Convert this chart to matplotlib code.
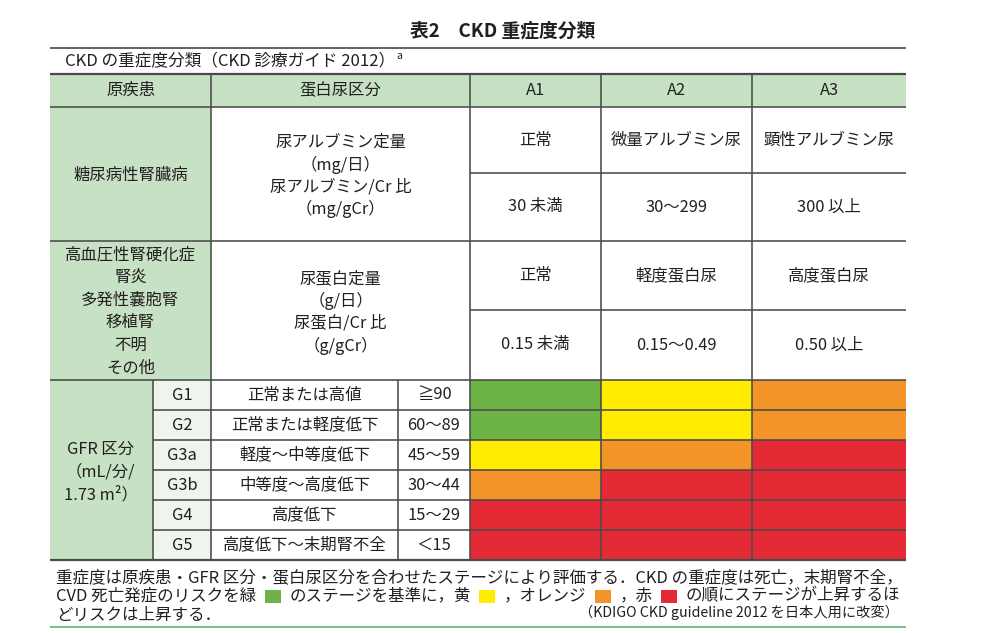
import matplotlib
matplotlib.use("Agg")
import matplotlib.pyplot as plt
from matplotlib.patches import Rectangle

plt.rcParams['font.family'] = ['Noto Sans CJK JP', 'DejaVu Sans']

# ---------------- data ----------------
title = "表2　CKD 重症度分類"
subtitle = "CKD の重症度分類（CKD 診療ガイド 2012）"
header_labels = ["原疾患", "蛋白尿区分", "A1", "A2", "A3"]
diseases = [["糖尿病性腎臓病"],
            ["高血圧性腎硬化症", "腎炎", "多発性嚢胞腎", "移植腎", "不明", "その他"]]
protein_measures = [["尿アルブミン定量", "（mg/日）", "尿アルブミン/Cr 比", "（mg/gCr）"],
                    ["尿蛋白定量", "（g/日）", "尿蛋白/Cr 比", "（g/gCr）"]]
albumin_labels = ["正常", "微量アルブミン尿", "顕性アルブミン尿"]
albumin_ranges = ["30 未満", "30〜299", "300 以上"]
protein_labels = ["正常", "軽度蛋白尿", "高度蛋白尿"]
protein_ranges = ["0.15 未満", "0.15〜0.49", "0.50 以上"]
gfr_label = ["GFR 区分", "（mL/分/", "1.73 m²）"]
g_stages = ["G1", "G2", "G3a", "G3b", "G4", "G5"]
g_descriptions = ["正常または高値", "正常または軽度低下", "軽度〜中等度低下",
                  "中等度〜高度低下", "高度低下", "高度低下〜末期腎不全"]
g_ranges = ["≧90", "60〜89", "45〜59", "30〜44", "15〜29", "＜15"]
# risk level per (G stage, A category): 0 green, 1 yellow, 2 orange, 3 red
risk_levels = [[0, 1, 2],
               [0, 1, 2],
               [1, 2, 3],
               [2, 3, 3],
               [3, 3, 3],
               [3, 3, 3]]
risk_colors = ["#6db345", "#ffec00", "#f29427", "#e42a34"]
footnote_1 = "重症度は原疾患・GFR 区分・蛋白尿区分を合わせたステージにより評価する．CKD の重症度は死亡，末期腎不全，"
footnote_2 = ["CVD 死亡発症のリスクを緑", 0, "のステージを基準に，黄", 1, "，オレンジ", 2, "，赤", 3,
              "の順にステージが上昇するほ"]
footnote_3 = "どリスクは上昇する．"
source_note = "（KDIGO CKD guideline 2012 を日本人用に改変）"

# ---------------- layout (pixels) ----------------
W, H = 993, 633
X0, X1 = 50, 906
xc = [50, 153, 211, 398, 470, 601, 752, 906]   # column edges
y_head = (74, 107)
y_dm = (107, 241, 173)
y_other = (241, 380, 310)
y_g0, row_h = 380, 30
HEAD_GREEN = "#c7e1c5"
LIGHT_GREEN = "#eef5ec"
LINE = "#4a4a4a"
TXT = "#231f20"
FS = 11.8

fig = plt.figure(figsize=(W / 100, H / 100), dpi=100)
ax = fig.add_axes([0, 0, 1, 1])
ax.set_xlim(0, W)
ax.set_ylim(H, 0)
ax.axis("off")


def rect(x0, y0, x1, y1, color):
    ax.add_patch(Rectangle((x0, y0), x1 - x0, y1 - y0, facecolor=color, edgecolor="none", zorder=1))


def hline(y, x0=X0, x1=X1, lw=1.15, color=LINE):
    ax.plot([x0, x1], [y, y], color=color, lw=lw, solid_capstyle="butt", zorder=3)


def vline(x, y0, y1, lw=1.15):
    ax.plot([x, x], [y0, y1], color=LINE, lw=lw, solid_capstyle="butt", zorder=3)


def txt(x, y, s, fs=FS, ha="center", **kw):
    return ax.text(x, y, s, fontsize=fs, ha=ha, va="center", color=TXT, zorder=4, **kw)


def width_of(t):
    fig.canvas.draw()
    return t.get_window_extent(fig.canvas.get_renderer()).width


def lines_block(x, yc, lines, spacing, fs=FS):
    n = len(lines)
    for i, s in enumerate(lines):
        txt(x, yc + (i - (n - 1) / 2) * spacing, s, fs=fs)


# title
txt(503, 31, title, fs=13.5, fontweight="bold")
hline(48, lw=1.3, color="#555555")
t = txt(65, 62, subtitle, fs=12, ha="left")
ax.text(65 + width_of(t) + 1, 56, "a", fontsize=7.5, ha="left", va="center", color=TXT)

# backgrounds
rect(X0, y_head[0], X1, y_head[1], HEAD_GREEN)
rect(X0, y_dm[0], xc[2], y_other[1], HEAD_GREEN)
rect(X0, y_g0, xc[1], y_g0 + 6 * row_h, HEAD_GREEN)
rect(xc[1], y_g0, xc[2], y_g0 + 6 * row_h, LIGHT_GREEN)

# risk heatmap
for i, row in enumerate(risk_levels):
    for j, lvl in enumerate(row):
        rect(xc[4 + j], y_g0 + i * row_h, xc[5 + j], y_g0 + (i + 1) * row_h, risk_colors[lvl])

# header text
head_centers = [(X0 + xc[2]) / 2, (xc[2] + xc[4]) / 2,
                (xc[4] + xc[5]) / 2, (xc[5] + xc[6]) / 2, (xc[6] + xc[7]) / 2]
for cx, s in zip(head_centers, header_labels):
    txt(cx, (y_head[0] + y_head[1]) / 2, s)

# disease rows
lines_block((X0 + xc[2]) / 2, 175, diseases[0], 22)
lines_block((X0 + xc[2]) / 2, 311.5, diseases[1], 22.6)
lines_block((xc[2] + xc[4]) / 2, 175.5, protein_measures[0], 22)
lines_block((xc[2] + xc[4]) / 2, 312, protein_measures[1], 22.6)
for j in range(3):
    cx = head_centers[2 + j]
    txt(cx, (y_dm[0] + y_dm[2]) / 2, albumin_labels[j])
    txt(cx, (y_dm[2] + y_dm[1]) / 2, albumin_ranges[j])
    txt(cx, (y_other[0] + y_other[2]) / 2, protein_labels[j])
    txt(cx, (y_other[2] + y_other[1]) / 2, protein_ranges[j])

# GFR rows
lines_block((X0 + xc[1]) / 2 - 1, 472, gfr_label, 22.5)
for i in range(6):
    yc = y_g0 + (i + 0.5) * row_h
    txt((xc[1] + xc[2]) / 2, yc, g_stages[i])
    txt((xc[2] + xc[3]) / 2, yc, g_descriptions[i])
    txt((xc[3] + xc[4]) / 2, yc, g_ranges[i])

# grid lines
hline(y_head[0], lw=1.6)
hline(y_head[1])
hline(y_dm[1])
hline(y_other[1])
hline(y_dm[2], x0=xc[4])
hline(y_other[2], x0=xc[4])
for i in range(1, 6):
    hline(y_g0 + i * row_h, x0=xc[1])
hline(y_g0 + 6 * row_h, lw=1.6)
for x in (xc[2], xc[4], xc[5], xc[6]):
    vline(x, y_head[0], y_g0 + 6 * row_h)
vline(xc[1], y_g0, y_g0 + 6 * row_h)
vline(xc[3], y_g0, y_g0 + 6 * row_h)

# footnotes
fx = 56
probe = ax.text(0, 0, footnote_1, fontsize=12)
w = width_of(probe)
probe.remove()
ffs = 12 * (903 - fx) / w
txt(fx, 578, footnote_1, fs=ffs, ha="left")

# line 2: measure text, spread remaining space around the coloured boxes
y2 = 596
box_w = 16
segs = []
text_total = 0
for seg in footnote_2:
    if isinstance(seg, str):
        t = txt(0, y2, seg, fs=ffs, ha="left")
        wseg = width_of(t)
        segs.append((t, wseg))
        text_total += wseg
    else:
        segs.append((seg, box_w))
n_boxes = sum(1 for s in footnote_2 if not isinstance(s, str))
gap = (900 - fx - text_total - n_boxes * box_w) / (2 * n_boxes)
x = fx
for item, wseg in segs:
    if isinstance(item, int):
        x += gap
        rect(x, y2 - 6.5, x + box_w, y2 + 6.5, risk_colors[item])
        x += box_w + gap
    else:
        item.set_x(x)
        x += wseg
txt(fx, 615, footnote_3, fs=ffs, ha="left")
txt(899, 612, source_note, fs=ffs * 0.86, ha="right")
hline(627, lw=1.4, color="#6cc48a")

fig.savefig("out.png", dpi=100)
